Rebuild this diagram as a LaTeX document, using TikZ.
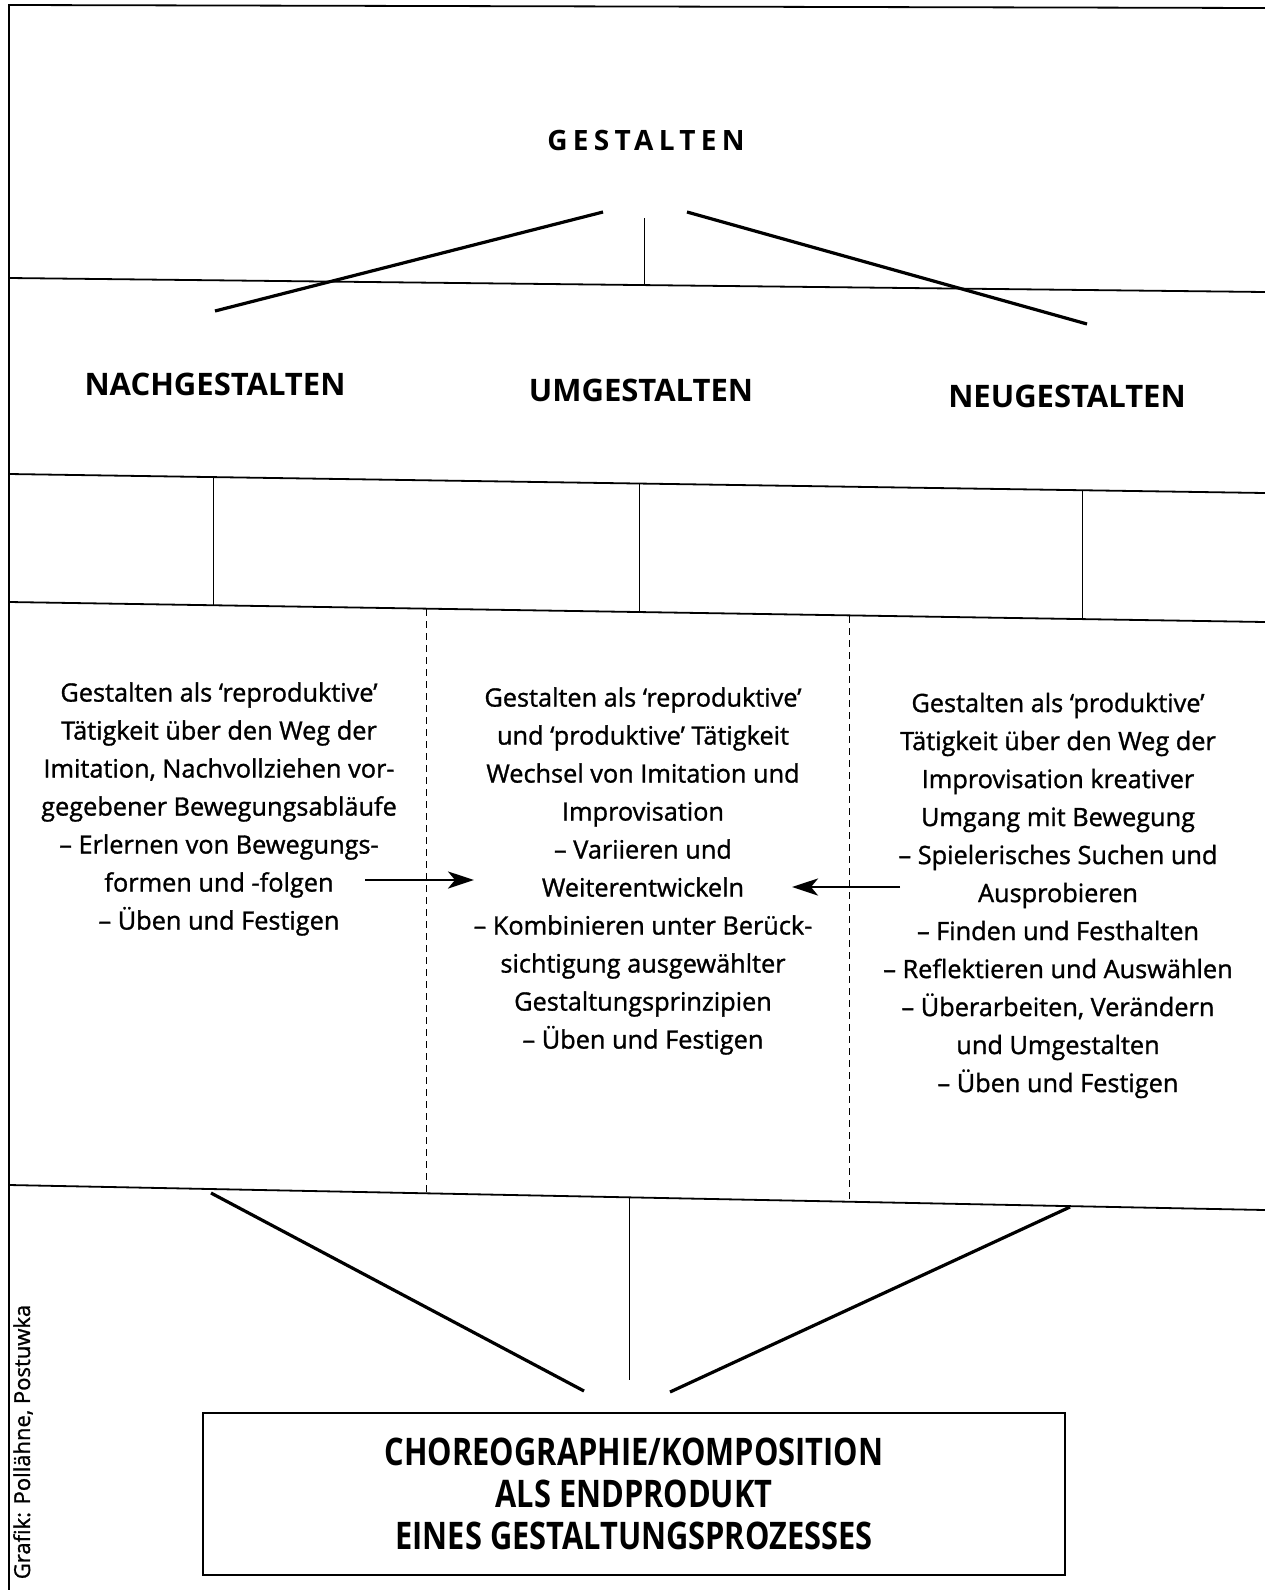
\documentclass[tikz,border=0pt]{standalone}
\usepackage{fontspec}
\usepackage{graphicx}
\setmainfont{Open Sans}
\usetikzlibrary{arrows.meta}
\begin{document}
\begin{tikzpicture}[x=1pt,y=-1pt,
  frameline/.style={line width=1.8pt},
  diag/.style={line width=3.2pt},
  thinline/.style={line width=0.9pt},
  dashline/.style={line width=0.8pt, dash pattern=on 7pt off 5pt},
  body/.style={font=\fontsize{25.3}{38}\selectfont\addfontfeature{FakeBold=1.2}, align=center, inner sep=0pt},
  head/.style={font=\fontsize{31}{36}\selectfont\bfseries, inner sep=0pt},
  arr/.style={line width=2.8pt, -{Stealth[length=26pt,width=17pt,inset=7pt]}},
  endbox/.style={draw, line width=1.5pt, minimum width=862pt, minimum height=162pt, inner sep=0pt, align=center,
     font=\fontsize{38}{42}\selectfont\bfseries}
]
\useasboundingbox (0,0) rectangle (1265,1590);
\fill[white] (0,0) rectangle (1265,1590);

% frame
\coordinate (tl) at (9,5);
\coordinate (tr) at (1265,8);
\coordinate (bl) at (9,1590);
\draw[frameline] (tr) -- (tl) -- (bl);

% horizontal band lines
\coordinate (h1a) at (9,278);   \coordinate (h1b) at (1265,292);
\coordinate (h2a) at (9,474);   \coordinate (h2b) at (1265,493);
\coordinate (h3a) at (9,602);   \coordinate (h3b) at (1265,622);
\coordinate (h4a) at (9,1185);  \coordinate (h4b) at (1265,1210);
\draw[frameline] (h1a) -- (h1b);
\draw[frameline] (h2a) -- (h2b);
\draw[frameline] (h3a) -- (h3b);
\draw[frameline] (h4a) -- (h4b);

% title
\node[font=\fontsize{28}{32}\selectfont\bfseries\addfontfeature{LetterSpace=19}, inner sep=0pt] (gest) at (646,140) {GESTALTEN};

% top connectors
\coordinate (t0) at (644,218); \coordinate (t0b) at (644,286);
\draw[thinline] (t0) -- (t0b);
\coordinate (tla) at (603,212); \coordinate (tlb) at (215,311);
\coordinate (tra) at (687,212); \coordinate (trb) at (1087,324);
\draw[diag] (tla) -- (tlb);
\draw[diag] (tra) -- (trb);

% headings
\node[head] (nach) at (215,384) {NACHGESTALTEN};
\node[head] (um) at (641,390) {UMGESTALTEN};
\node[head] (neu) at (1067,396) {NEUGESTALTEN};

% verticals in band
\coordinate (v1a) at (213,477); \coordinate (v1b) at (213,605);
\coordinate (v2a) at (639,484); \coordinate (v2b) at (639,612);
\coordinate (v3a) at (1082,490); \coordinate (v3b) at (1082,619);
\draw[thinline] (v1a) -- (v1b);
\draw[thinline] (v2a) -- (v2b);
\draw[thinline] (v3a) -- (v3b);

% dashed separators
\coordinate (d1a) at (426,609); \coordinate (d1b) at (426,1193);
\coordinate (d2a) at (849,616); \coordinate (d2b) at (849,1202);
\draw[dashline] (d1a) -- (d1b);
\draw[dashline] (d2a) -- (d2b);

% body texts
\node[body] (left) at (219,809) {Gestalten als ‘reproduktive’\\
Tätigkeit über den Weg der\\
Imitation, Nachvollziehen vor-\\
gegebener Bewegungsabläufe\\
– Erlernen von Bewegungs-\\
formen und -folgen\\
– Üben und Festigen};

\node[body] (mid) at (643,871) {Gestalten als ‘reproduktive’\\
und ‘produktive’ Tätigkeit\\
Wechsel von Imitation und\\
Improvisation\\
– Variieren und\\
Weiterentwickeln\\
– Kombinieren unter Berück-\\
sichtigung ausgewählter\\
Gestaltungsprinzipien\\
– Üben und Festigen};

\node[body] (right) at (1058,895.5) {Gestalten als ‘produktive’\\
Tätigkeit über den Weg der\\
Improvisation kreativer\\
Umgang mit Bewegung\\
– Spielerisches Suchen und\\
Ausprobieren\\
– Finden und Festhalten\\
– Reflektieren und Auswählen\\
– Überarbeiten, Verändern\\
und Umgestalten\\
– Üben und Festigen};

% arrows
\coordinate (a1s) at (365,880); \coordinate (a1e) at (474,880);
\coordinate (a2s) at (900,887); \coordinate (a2e) at (792,887);
\draw[arr] (a1s) -- (a1e);
\draw[arr] (a2s) -- (a2e);

% bottom connectors
\coordinate (b0) at (629,1197); \coordinate (b0b) at (629,1380);
\draw[thinline] (b0) -- (b0b);
\coordinate (bla) at (211,1193); \coordinate (blb) at (584,1391);
\coordinate (bra) at (1070,1207); \coordinate (brb) at (670,1392);
\draw[diag] (bla) -- (blb);
\draw[diag] (bra) -- (brb);

% end product box
\node[endbox] (endp) at (634,1494) {\scalebox{0.81}[1]{CHOREOGRAPHIE/KOMPOSITION}\\
\scalebox{0.81}[1]{ALS ENDPRODUKT}\\
\scalebox{0.81}[1]{EINES GESTALTUNGSPROZESSES}};

% credit
\node[rotate=90, font=\fontsize{22}{26}\selectfont\addfontfeature{FakeBold=1.2}, inner sep=0pt] (cred) at (23,1442) {Grafik: Pollähne, Postuwka};
\end{tikzpicture}
\end{document}
